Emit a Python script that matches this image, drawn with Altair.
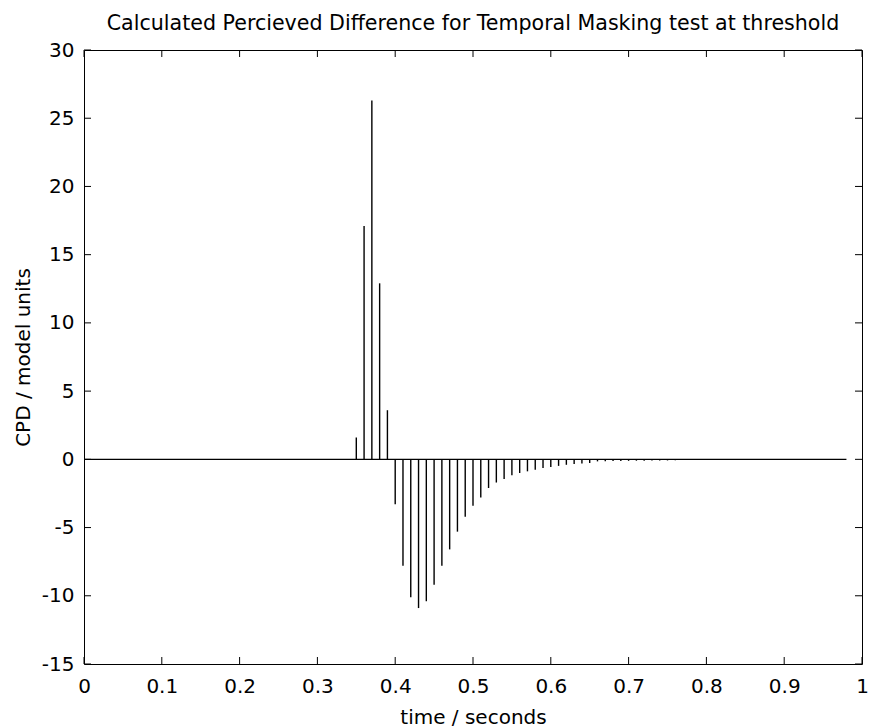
import altair as alt
import pandas as pd

# stem positions (seconds) and values (model units)
stem_times = [0.35, 0.36, 0.37, 0.38, 0.39, 0.40, 0.41, 0.42, 0.43, 0.44,
              0.45, 0.46, 0.47, 0.48, 0.49, 0.50, 0.51, 0.52, 0.53, 0.54,
              0.55, 0.56, 0.57, 0.58, 0.59, 0.60, 0.61, 0.62, 0.63, 0.64,
              0.65, 0.66, 0.67, 0.68, 0.69, 0.70, 0.71, 0.72, 0.73, 0.74,
              0.75, 0.76]
stem_values = [1.6, 17.1, 26.3, 12.9, 3.6, -3.3, -7.8, -10.1, -10.9, -10.4,
               -9.2, -7.8, -6.6, -5.3, -4.2, -3.4, -2.8, -2.1, -1.7, -1.45,
               -1.17, -1.0, -0.88, -0.76, -0.64, -0.56, -0.48, -0.40, -0.35, -0.31,
               -0.27, -0.15, -0.14, -0.13, -0.12, -0.11, -0.10, -0.10, -0.09, -0.08,
               -0.08, -0.07]
# baseline of the stem plot spans the sampled time range
baseline_start = [0.0]
baseline_end = [0.98]
baseline_level = [0.0]

x_ticks = [0, 0.1, 0.2, 0.3, 0.4, 0.5, 0.6, 0.7, 0.8, 0.9, 1]
y_ticks = [-15, -10, -5, 0, 5, 10, 15, 20, 25, 30]

title_text = "Calculated Percieved Difference for Temporal Masking test at threshold"
x_title = "time / seconds"
y_title = "CPD / model units"

W, H = 778, 614
FONT = "DejaVu Sans"

stems = pd.DataFrame({"time": stem_times, "cpd": stem_values,
                      "zero": [0.0] * len(stem_times)})
base = pd.DataFrame({"time": baseline_start, "time2": baseline_end, "cpd": baseline_level})
xt = pd.DataFrame({"time": x_ticks})
yt = pd.DataFrame({"cpd": y_ticks})

xscale = alt.Scale(domain=[0, 1], nice=False, zero=False)
yscale = alt.Scale(domain=[-15, 30], nice=False, zero=False)

stem_layer = alt.Chart(stems).mark_rule(color="black", strokeWidth=1.4).encode(
    x=alt.X("time:Q", scale=xscale,
            axis=alt.Axis(title=x_title, values=x_ticks, labelExpr="'' + datum.value",
                          labelFlush=False, labelPadding=12, titlePadding=11)),
    y=alt.Y("cpd:Q", scale=yscale,
            axis=alt.Axis(title=y_title, values=y_ticks, labelExpr="'' + datum.value",
                          labelFlush=False, labelPadding=10, titlePadding=8)),
    y2="zero:Q",
)

base_layer = alt.Chart(base).mark_rule(color="black", strokeWidth=1.3).encode(
    x="time:Q", x2="time2:Q", y="cpd:Q"
)

tick_style = dict(color="black", strokeWidth=1)
bottom_ticks = alt.Chart(xt).mark_rule(**tick_style).encode(
    x="time:Q", y=alt.value(H), y2=alt.value(H - 7))
top_ticks = alt.Chart(xt).mark_rule(**tick_style).encode(
    x="time:Q", y=alt.value(0), y2=alt.value(7))
left_ticks = alt.Chart(yt).mark_rule(**tick_style).encode(
    y="cpd:Q", x=alt.value(0), x2=alt.value(7))
right_ticks = alt.Chart(yt).mark_rule(**tick_style).encode(
    y="cpd:Q", x=alt.value(W), x2=alt.value(W - 7))

chart = alt.layer(
    stem_layer, base_layer, bottom_ticks, top_ticks, left_ticks, right_ticks
).properties(
    width=W, height=H,
    background="white",
    title=alt.Title(title_text, font=FONT, fontSize=20.6, fontWeight="normal",
                    color="black", anchor="middle", frame="group",
                    baseline="alphabetic", offset=20, dy=31),
    autosize=alt.AutoSizeParams(type="none"),
    padding={"left": 84, "top": 50, "right": 7, "bottom": 64},
).configure_axis(
    ticks=False, domain=False, grid=False,
    labelFont=FONT, labelFontSize=20, labelColor="black",
    titleFont=FONT, titleFontSize=20, titleFontWeight="normal", titleColor="black",
).configure_view(
    stroke="black", strokeWidth=1
)

chart.save("out.html", embed_options={"renderer": "svg", "actions": False})
